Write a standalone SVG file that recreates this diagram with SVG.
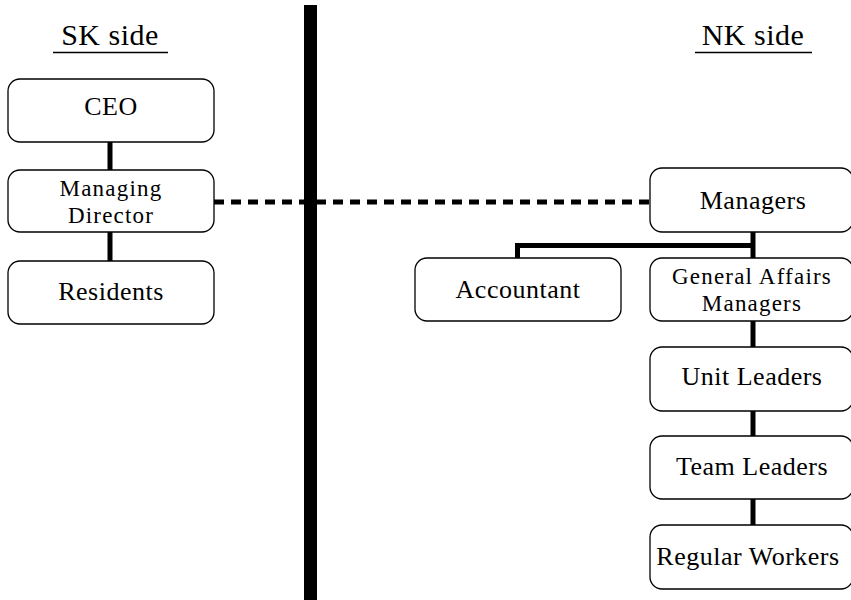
<svg xmlns="http://www.w3.org/2000/svg" width="851" height="600" viewBox="0 0 851 600">
<style>
.box{fill:#fff;stroke:#000;stroke-width:1.3}
.t{font-family:"Liberation Serif","Times New Roman",serif;font-size:26px;fill:#000;text-anchor:middle;letter-spacing:0.5px}
.t2{font-family:"Liberation Serif","Times New Roman",serif;font-size:23px;fill:#000;text-anchor:middle;letter-spacing:1.2px}
.h{font-family:"Liberation Serif","Times New Roman",serif;font-size:30px;fill:#000;text-anchor:middle;letter-spacing:0.5px}
.c{stroke:#000;stroke-width:5;fill:none}
.d{stroke:#000;stroke-width:5;fill:none;stroke-dasharray:10 7}
</style>
<rect width="851" height="600" fill="#fff"/>
<g id="connectors">
<line class="d" x1="214" y1="202" x2="650" y2="202"/>
<line class="c" x1="110" y1="142" x2="110" y2="170"/>
<line class="c" x1="110" y1="232" x2="110" y2="261"/>
<polyline class="c" points="517.5,258 517.5,245.5 753,245.5"/>
<line class="c" x1="753" y1="232" x2="753" y2="258"/>
<line class="c" x1="753" y1="321" x2="753" y2="347"/>
<line class="c" x1="753" y1="411" x2="753" y2="436"/>
<line class="c" x1="753" y1="499" x2="753" y2="525"/>
</g>
<rect id="divider" x="304" y="5" width="13" height="595" fill="#000"/>
<g id="sk-title">
<text class="h" x="110" y="45">SK side</text>
<line x1="53" y1="52.5" x2="168" y2="52.5" stroke="#000" stroke-width="1.3"/>
</g>
<g id="nk-title">
<text class="h" x="753" y="45">NK side</text>
<line x1="695" y1="52.5" x2="812" y2="52.5" stroke="#000" stroke-width="1.3"/>
</g>
<g id="ceo"><rect class="box" x="8" y="79" width="206" height="63" rx="12"/><text class="t" x="111" y="115">CEO</text></g>
<g id="managing-director"><rect class="box" x="8" y="170" width="206" height="62" rx="12"/><text class="t2" x="111" y="196">Managing</text><text class="t2" x="111" y="223">Director</text></g>
<g id="residents"><rect class="box" x="8" y="261" width="206" height="63" rx="12"/><text class="t" x="111" y="300">Residents</text></g>
<g id="managers"><rect class="box" x="650" y="168" width="203" height="64" rx="12"/><text class="t" x="753" y="209">Managers</text></g>
<g id="accountant"><rect class="box" x="415" y="258" width="206" height="63" rx="12"/><text class="t" x="518" y="298">Accountant</text></g>
<g id="general-affairs"><rect class="box" x="650" y="258" width="203" height="63" rx="12"/><text class="t2" x="752" y="284">General Affairs</text><text class="t2" x="752" y="311">Managers</text></g>
<g id="unit-leaders"><rect class="box" x="650" y="347" width="203" height="64" rx="12"/><text class="t" x="752" y="385">Unit Leaders</text></g>
<g id="team-leaders"><rect class="box" x="650" y="436" width="203" height="63" rx="12"/><text class="t" x="752" y="475">Team Leaders</text></g>
<g id="regular-workers"><rect class="box" x="650" y="525" width="203" height="64" rx="12"/><text class="t" x="748" y="565">Regular Workers</text></g>
</svg>
